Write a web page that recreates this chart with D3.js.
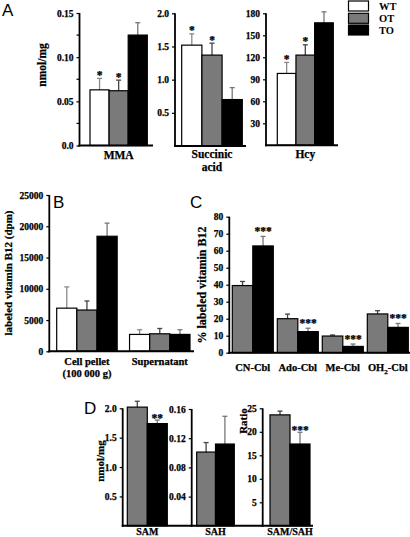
<!DOCTYPE html>
<html><head><meta charset="utf-8">
<script src="https://cdn.jsdelivr.net/npm/d3@7"></script>
<style>
body{margin:0;background:#fff}
svg{display:block}
text{font-family:"Liberation Serif","Times New Roman",serif;font-weight:bold;fill:#000}
.heavy{stroke:#000;stroke-width:0.25px}
.plabel{font-family:"Liberation Sans",Arial,sans-serif;font-weight:normal}
</style>
</head><body>
<svg id="c" width="410" height="537"></svg>
<script>
// ---------- DATA ----------
const groupKeys = ["WT", "OT", "TO"];
const groupKeysCD = ["OT", "TO"];

// Panel A
const mmaMeans = [0.063, 0.062, 0.125];
const mmaErr = [0.013, 0.012, 0.014];
const mmaTicks = [0, 0.05, 0.10, 0.15];
const mmaTickLabels = ["0.0", "0.05", "0.10", "0.15"];
const mmaMinorTicks = [0.025, 0.075, 0.125];
const mmaStars = ["*", "*", ""];

const succMeans = [1.52, 1.37, 0.70];
const succErr = [0.17, 0.18, 0.18];
const succTicks = [0.5, 1.0, 1.5, 2.0];
const succTickLabels = ["0.5", "1.0", "1.5", "2.0"];
const succStars = ["*", "*", ""];

const hcyMeans = [98, 123, 167];
const hcyErr = [15, 14, 15];
const hcyTicks = [30, 60, 90, 120, 150, 180];
const hcyStars = ["*", "*", ""];

// Panel B
const bCategories = ["Cell pellet", "Supernatant"];
const bWT = [6900, 2700];
const bOT = [6600, 2800];
const bTO = [18400, 2700];
const bWTErr = [3400, 750];
const bOTErr = [1450, 850];
const bTOErr = [2100, 750];
const bTicks = [0, 5000, 10000, 15000, 20000, 25000];

// Panel C
const cCategories = ["CN-Cbl", "Ado-Cbl", "Me-Cbl", "OH2-Cbl"];
const cOT = [39.5, 20.0, 9.8, 22.8];
const cOTErr = [2.4, 2.7, 0.6, 1.9];
const cTO = [62.8, 12.4, 3.7, 14.9];
const cTOErr = [5.6, 2.0, 1.4, 2.3];
const cStarsTO = ["***", "***", "***", "***"];
const cTicks = [0, 10, 20, 30, 40, 50, 60, 70, 80];

// Panel D
const samMeans = [2.02, 1.74];
const samErr = [0.10, 0.06];
const samTicks = [0.5, 1.0, 1.5, 2.0];
const samTickLabels = ["0.5", "1.0", "1.5", "2.0"];
const samStars = ["", "**"];
const sahMeans = [0.101, 0.112];
const sahErr = [0.013, 0.038];
const sahTicks = [0.04, 0.08, 0.12, 0.16];
const sahTickLabels = ["0.04", "0.08", "0.12", "0.16"];
const ratioMeans = [23.6, 17.4];
const ratioErr = [0.8, 2.5];
const ratioTicks = [5, 10, 15, 20, 25];
const ratioStars = ["", "***"];

// ---------- STYLE ----------
const fillOf = {WT: "#ffffff", OT: "#7a7a7a", TO: "#000000"};
const errCol = {WT: "#8a8a8a", OT: "#444", TO: "#777"};

const svg = d3.select("#c");

function panel(o) {
  const g = svg.append("g");
  const y = d3.scaleLinear().domain([0, o.max]).range([o.y0, o.yMax]);
  const xo = d3.scaleBand().domain(o.cats).range([o.x0, o.x1]).paddingInner(o.pad || 0).paddingOuter(0);
  const xi = d3.scaleBand().domain(o.keys).range([0, xo.bandwidth()]);

  o.cats.forEach((c, ci) => {
    o.keys.forEach((k, ki) => {
      const v = o.vals[ki][ci], e = o.errs[ki][ci];
      const bx = xo(c) + xi(k), bw = xi.bandwidth();
      const cx = bx + bw / 2;
      g.append("line").attr("x1", cx).attr("x2", cx).attr("y1", y(v)).attr("y2", y(v + e))
        .attr("stroke", errCol[k]).attr("stroke-width", 1.3);
      g.append("line").attr("x1", cx - 2.5).attr("x2", cx + 2.5).attr("y1", y(v + e)).attr("y2", y(v + e))
        .attr("stroke", errCol[k]).attr("stroke-width", 1.3);
      g.append("rect").attr("x", bx).attr("y", y(v)).attr("width", bw).attr("height", y(0) - y(v))
        .attr("fill", fillOf[k]).attr("stroke", "#000").attr("stroke-width", 1.2);
      const st = o.stars && o.stars[ki] ? o.stars[ki][ci] : "";
      if (st) {
        g.append("text").attr("class", "heavy").attr("x", cx).attr("y", y(v + e) + (o.starDy || 0))
          .attr("text-anchor", "middle").attr("font-size", 11.5).text(st);
      }
    });
  });

  const yAxis = d3.axisLeft(y).tickValues(o.ticks).tickSize(3).tickPadding(3)
    .tickFormat((d, i) => o.tickLabels ? o.tickLabels[i] : d);
  const ag = g.append("g").attr("transform", `translate(${o.ax},0)`).call(yAxis);
  ag.attr("font-family", null).attr("font-size", null);
  ag.select(".domain").remove();
  ag.selectAll("line").attr("stroke", "#000").attr("stroke-width", 1.2);
  ag.selectAll("text").attr("class", "heavy").attr("fill", "#000").attr("font-size", 9.5);
  if (o.minor) {
    g.selectAll(null).data(o.minor).enter().append("line")
      .attr("x1", o.ax - 3).attr("x2", o.ax).attr("y1", d => y(d)).attr("y2", d => y(d))
      .attr("stroke", "#000").attr("stroke-width", 1.2);
  }
  g.append("line").attr("x1", o.ax).attr("x2", o.ax).attr("y1", o.y0 + 1).attr("y2", o.yMax)
    .attr("stroke", "#000").attr("stroke-width", 1.8);
  g.append("line").attr("x1", o.ax - 1).attr("x2", o.baseEnd).attr("y1", o.y0).attr("y2", o.y0)
    .attr("stroke", "#000").attr("stroke-width", 2);

  if (o.catLabels) {
    o.cats.forEach((c, ci) => {
      o.catLabels[ci].forEach((ln, li) => {
        const t = g.append("text").attr("class", "heavy").attr("x", xo(c) + xo.bandwidth() / 2)
          .attr("y", o.labY + li * o.labLH).attr("text-anchor", "middle").attr("font-size", o.labFs || 11);
        if (ln === "OH2-Cbl") {
          t.append("tspan").text("OH");
          t.append("tspan").attr("font-size", 7).attr("dy", 3).text("2");
          t.append("tspan").attr("dy", -3).text("-Cbl");
        } else t.text(ln);
      });
    });
  }
  if (o.yLabel) {
    g.append("text").attr("class", "heavy").attr("transform", `translate(${o.yLabX},${o.yLabY}) rotate(-90)`)
      .attr("text-anchor", "middle").attr("font-size", o.yLabFs || 11).text(o.yLabel);
  }
  return g;
}

// Panel A
panel({ax: 79.5, y0: 145.5, yMax: 13, max: 0.15, ticks: mmaTicks, tickLabels: mmaTickLabels, minor: mmaMinorTicks,
  x0: 90, x1: 147.3, cats: ["MMA"], keys: groupKeys,
  vals: mmaMeans.map(v => [v]), errs: mmaErr.map(v => [v]), stars: mmaStars.map(s => [s]), starDy: 0.5,
  baseEnd: 153, catLabels: [["MMA"]], labY: 158.5, labLH: 13, labFs: 11.5,
  yLabel: "nmol/mg", yLabX: 46, yLabY: 65, yLabFs: 11.5});
panel({ax: 175, y0: 146, yMax: 13.3, max: 2.0, ticks: succTicks, tickLabels: succTickLabels,
  x0: 181.7, x1: 242.3, cats: ["Succinic acid"], keys: groupKeys,
  vals: succMeans.map(v => [v]), errs: succErr.map(v => [v]), stars: succStars.map(s => [s]), starDy: 0.5,
  baseEnd: 246, catLabels: [["Succinic", "acid"]], labY: 158, labLH: 13, labFs: 11.5});
panel({ax: 266, y0: 145.3, yMax: 13.3, max: 180, ticks: hcyTicks,
  x0: 277.3, x1: 333.3, cats: ["Hcy"], keys: groupKeys,
  vals: hcyMeans.map(v => [v]), errs: hcyErr.map(v => [v]), stars: hcyStars.map(s => [s]), starDy: 0.5,
  baseEnd: 338, catLabels: [["Hcy"]], labY: 158, labLH: 13, labFs: 11.5});

// Legend
const legY = [1, 13.3, 25];
groupKeys.forEach((k, i) => {
  svg.append("rect").attr("x", 348.5).attr("y", legY[i]).attr("width", 20).attr("height", 10)
    .attr("fill", fillOf[k]).attr("stroke", "#000").attr("stroke-width", 1.2);
  svg.append("text").attr("x", 379).attr("y", legY[i] + 8.5).attr("font-size", 10.5)
    .attr("font-weight", "normal").text(k);
});

// Panel B
panel({ax: 49.3, y0: 351.3, yMax: 195, max: 25000, ticks: bTicks,
  x0: 56.7, x1: 190, pad: 0.17, cats: bCategories, keys: groupKeys,
  vals: [bWT, bOT, bTO], errs: [bWTErr, bOTErr, bTOErr],
  baseEnd: 194, catLabels: [["Cell pellet", "(100 000 g)"], ["Supernatant"]], labY: 365, labLH: 12, labFs: 10.5,
  yLabel: "labeled vitamin B12 (dpm)", yLabX: 12, yLabY: 273, yLabFs: 11});

// Panel C
panel({ax: 229.3, y0: 352.7, yMax: 216.7, max: 80, ticks: cTicks,
  x0: 232.3, x1: 408.3, pad: 0.089, cats: cCategories, keys: groupKeysCD,
  vals: [cOT, cTO], errs: [cOTErr, cTOErr], stars: [["", "", "", ""], cStarsTO], starDy: -1.5,
  baseEnd: 410, catLabels: cCategories.map(c => [c]), labY: 371, labLH: 12, labFs: 10.5,
  yLabel: "% labeled vitamin B12", yLabX: 206, yLabY: 285, yLabFs: 12});

// Panel D
panel({ax: 122.7, y0: 525.8, yMax: 408.3, max: 2.0, ticks: samTicks, tickLabels: samTickLabels,
  x0: 127.3, x1: 167.3, cats: ["SAM"], keys: groupKeysCD,
  vals: samMeans.map(v => [v]), errs: samErr.map(v => [v]), stars: samStars.map(s => [s]), starDy: 1.5,
  baseEnd: 192, catLabels: [["SAM"]], labY: 535, labLH: 12, labFs: 10,
  yLabel: "nmol/mg", yLabX: 104, yLabY: 461, yLabFs: 11});
panel({ax: 191.7, y0: 525.8, yMax: 409, max: 0.16, ticks: sahTicks, tickLabels: sahTickLabels,
  x0: 196.7, x1: 234.3, cats: ["SAH"], keys: groupKeysCD,
  vals: sahMeans.map(v => [v]), errs: sahErr.map(v => [v]),
  baseEnd: 263, catLabels: [["SAH"]], labY: 535, labLH: 12, labFs: 10});
panel({ax: 262.7, y0: 525.8, yMax: 408.3, max: 25, ticks: ratioTicks,
  x0: 270, x1: 310, cats: ["SAM/SAH"], keys: groupKeysCD,
  vals: ratioMeans.map(v => [v]), errs: ratioErr.map(v => [v]), stars: ratioStars.map(s => [s]), starDy: 2,
  baseEnd: 313, catLabels: [["SAM/SAH"]], labY: 535, labLH: 12, labFs: 10,
  yLabel: "Ratio", yLabX: 247, yLabY: 421, yLabFs: 11});

// Panel letters
[["A", 2, 16], ["B", 53, 207.5], ["C", 190, 207.5], ["D", 84, 413.5]].forEach(([t, x, yy]) => {
  svg.append("text").attr("class", "plabel").attr("x", x).attr("y", yy).attr("font-size", 17).text(t);
});
</script>
</body></html>
